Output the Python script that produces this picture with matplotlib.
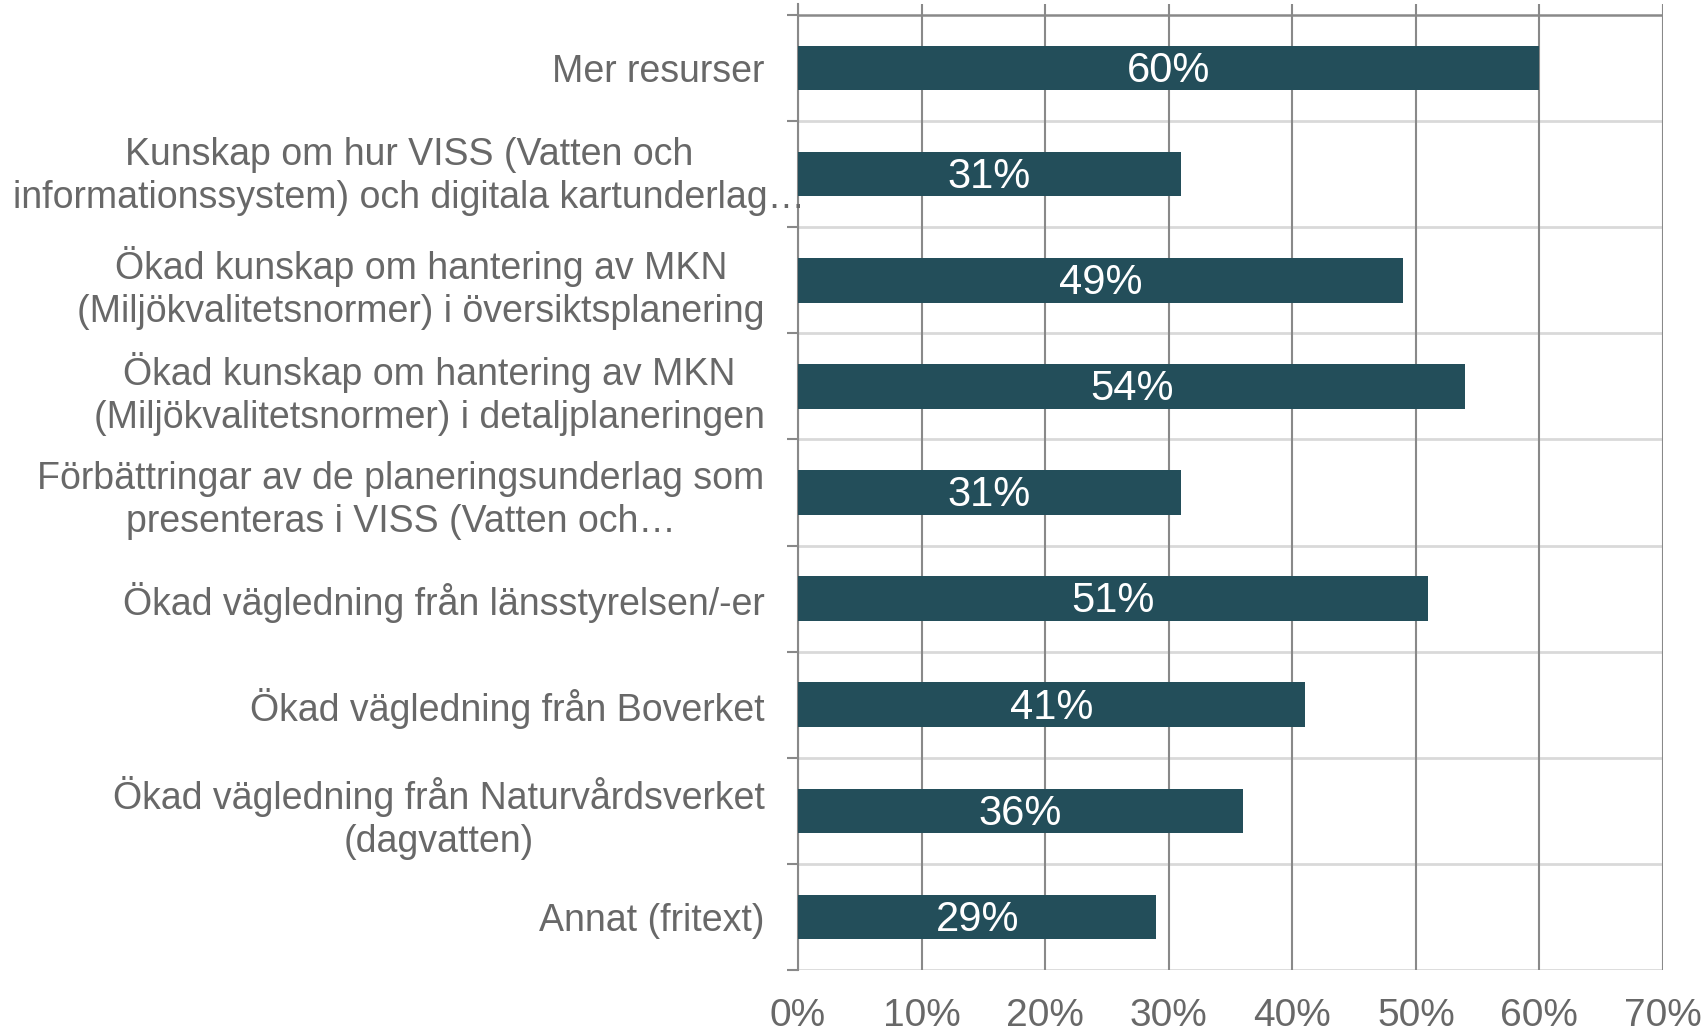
import matplotlib.pyplot as plt
from matplotlib.ticker import FuncFormatter

categories = [
    "Mer resurser",
    "Kunskap om hur VISS (Vatten och\ninformationssystem) och digitala kartunderlag…",
    "Ökad kunskap om hantering av MKN\n(Miljökvalitetsnormer) i översiktsplanering",
    "Ökad kunskap om hantering av MKN\n(Miljökvalitetsnormer) i detaljplaneringen",
    "Förbättringar av de planeringsunderlag som\npresenteras i VISS (Vatten och…",
    "Ökad vägledning från länsstyrelsen/-er",
    "Ökad vägledning från Boverket",
    "Ökad vägledning från Naturvårdsverket\n(dagvatten)",
    "Annat (fritext)",
]
values = [60, 31, 49, 54, 31, 51, 41, 36, 29]
xticks = [0, 10, 20, 30, 40, 50, 60, 70]

bar_color = "#234E5A"
text_color = "#686868"
grid_dark = "#898989"
grid_light = "#D9D9D9"

plt.rcParams['font.family'] = ['Liberation Sans', 'DejaVu Sans']

fig = plt.figure(figsize=(17.06, 10.33), dpi=100)
ax = fig.add_axes([798 / 1706, 1 - 970 / 1033, 865 / 1706, 966 / 1033])

pos = list(range(len(categories)))
ax.barh(pos, values, height=0.42, color=bar_color, zorder=3)
for p, v in zip(pos, values):
    ax.annotate(f"{v}%", (v / 2, p), xytext=(0, -2), textcoords='offset points',
                ha='center', va='center', color='white', fontsize=30, zorder=4)

ax.set_xlim(0, 70)
ax.set_ylim(len(categories) - 0.5, -0.604)

# vertical gridlines
ax.set_xticks(xticks)
ax.xaxis.set_major_formatter(FuncFormatter(lambda x, _: f"{x:.0f}%"))
ax.xaxis.grid(True, color=grid_dark, linewidth=1.5, zorder=0)
ax.tick_params(axis='x', length=0, pad=20, labelsize=28, labelcolor=text_color)

# category separators
for b in range(len(categories) + 1):
    y = b - 0.5
    c = grid_dark if b == 0 else grid_light
    ax.axhline(y, color=c, linewidth=2 if b else 1.8, zorder=1)

ax.set_yticks(pos)
ax.set_yticklabels(categories)
ax.set_yticks([b - 0.5 for b in range(len(categories) + 1)], minor=True)
ax.tick_params(axis='y', which='major', length=0, pad=24, labelsize=27,
               labelcolor=text_color)
ax.tick_params(axis='y', which='minor', length=8, width=1.5, color=grid_dark)
for lbl in ax.get_yticklabels():
    lbl.set_multialignment('center')
    lbl.set_linespacing(1.25)

# the long label overflows up to the axis in the original; place it centred
ax.get_yticklabels()[1].set_visible(False)
ax.annotate(categories[1], (-0.45, 1), xycoords=ax.get_yaxis_transform(),
            xytext=(0, -2), textcoords='offset points',
            ha='center', va='center', multialignment='center', fontsize=27,
            linespacing=1.25, color=text_color)

for s in ['top', 'right', 'bottom']:
    ax.spines[s].set_visible(False)
ax.spines['left'].set_color(grid_dark)
ax.spines['left'].set_linewidth(1.5)
ax.spines['left'].set_zorder(2)

fig.savefig("out.png", dpi=100)
